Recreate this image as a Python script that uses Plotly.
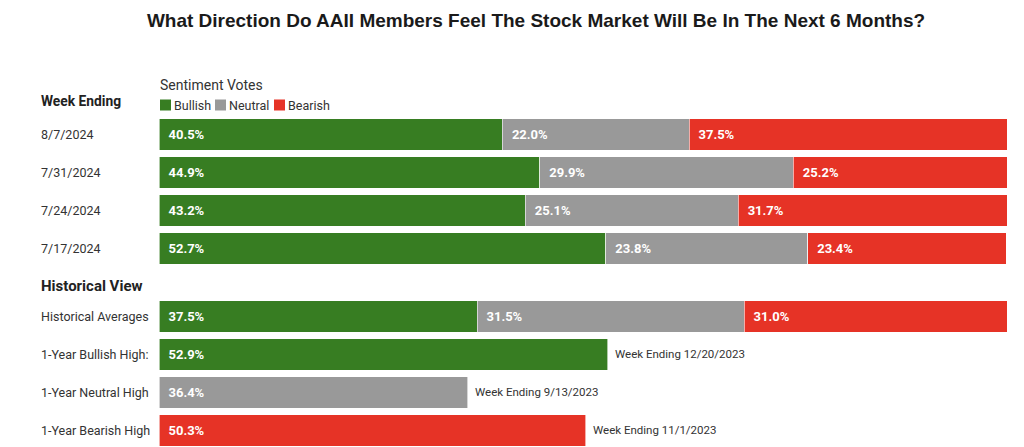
import plotly.graph_objects as go

# rows: 4 weekly readings, then the historical view block
row_labels = ["8/7/2024", "7/31/2024", "7/24/2024", "7/17/2024",
              "Historical Averages", "1-Year Bullish High:",
              "1-Year Neutral High", "1-Year Bearish High"]

bull_rows = [0, 1, 2, 3, 4, 5]
bull_vals = [40.5, 44.9, 43.2, 52.7, 37.5, 52.9]

neut_rows = [0, 1, 2, 3, 4, 6]
neut_vals = [22.0, 29.9, 25.1, 23.8, 31.5, 36.4]

bear_rows = [0, 1, 2, 3, 4, 7]
bear_vals = [37.5, 25.2, 31.7, 23.4, 31.0, 50.3]

high_notes = ["Week Ending 12/20/2023", "Week Ending 9/13/2023", "Week Ending 11/1/2023"]
high_rows = [5, 6, 7]
high_vals = [52.9, 36.4, 50.3]

series_names = ["Bullish", "Neutral", "Bearish"]

GREEN = "#377d22"
GRAY = "#999999"
RED = "#e63326"
colors = [GREEN, GRAY, RED]

W, H = 1024, 447
L, R, T, B = 159, 17, 115, 0
PW, PH = W - L - R, H - T - B


def px_x(p):
    return (p - L) / PW


def px_y(p):
    return (H - B - p) / PH


# vertical slot for each row (historical block is pulled up a bit)
gap = 68 / 38 - 1
ypos = [0, 1, 2, 3, 4 + gap, 5 + gap, 6 + gap, 7 + gap]
header_y = 4.0

LABEL_FONT = "Roboto"


def mk(name, rows, vals, color):
    return go.Bar(
        name=name,
        orientation="h",
        y=[ypos[r] for r in rows],
        x=vals,
        width=0.82,
        marker=dict(color=color, line=dict(color="white", width=0.6)),
        text=["\u00a0\u00a0{:.1f}%".format(v) for v in vals],
        textposition="inside",
        insidetextanchor="start",
        textfont=dict(family=LABEL_FONT, size=13, color="white", weight="bold"),
        hoverinfo="skip",
        showlegend=False,
    )


fig = go.Figure([mk(n, r, v, c) for n, r, v, c in zip(
    series_names, [bull_rows, neut_rows, bear_rows], [bull_vals, neut_vals, bear_vals], colors)])

annotations = []
for lab, y in zip(row_labels, ypos):
    annotations.append(dict(x=px_x(39), xref="paper", y=y, yref="y", text=lab,
                            showarrow=False, xanchor="left", yanchor="middle",
                            font=dict(family=LABEL_FONT, size=12.5, color="#333333")))
for txt, r, v in zip(high_notes, high_rows, high_vals):
    annotations.append(dict(x=v, y=ypos[r], xref="x", yref="y", text=txt, showarrow=False,
                            xanchor="left", yanchor="middle", xshift=5,
                            font=dict(family=LABEL_FONT, size=11.5, color="#333333")))
annotations.append(dict(x=px_x(39), xref="paper", y=header_y, yref="y", text="<b>Historical View</b>",
                        showarrow=False, xanchor="left", yanchor="middle",
                        font=dict(family=LABEL_FONT, size=15, color="#222222")))
annotations.append(dict(x=px_x(39), xref="paper", y=px_y(101), yref="paper", text="<b>Week Ending</b>",
                        showarrow=False, xanchor="left", yanchor="middle",
                        font=dict(family=LABEL_FONT, size=13.8, color="#222222")))

# legend drawn by hand so it stays compact like the original
annotations.append(dict(x=px_x(158), xref="paper", y=px_y(85), yref="paper", text="Sentiment Votes",
                        showarrow=False, xanchor="left", yanchor="middle",
                        font=dict(family=LABEL_FONT, size=14, color="#333333")))
shapes = []
leg_x = [160, 215, 274]
for name, col, lx in zip(series_names, colors, leg_x):
    shapes.append(dict(type="rect", xref="paper", yref="paper",
                       x0=px_x(lx), x1=px_x(lx + 11), y0=px_y(110.5), y1=px_y(99.5),
                       fillcolor=col, line=dict(width=0)))
    annotations.append(dict(x=px_x(lx + 12), xref="paper", y=px_y(105), yref="paper", text=name,
                            showarrow=False, xanchor="left", yanchor="middle",
                            font=dict(family=LABEL_FONT, size=12.5, color="#333333")))

fig.update_layout(
    width=W, height=H,
    barmode="stack",
    paper_bgcolor="white", plot_bgcolor="white",
    margin=dict(l=L, r=R, t=T, b=B, autoexpand=False),
    title=dict(text="<b>What Direction Do AAII Members Feel The Stock Market Will Be In The Next 6 Months?</b>",
               x=536 / W, xanchor="center", y=1 - 20 / H, yanchor="middle",
               font=dict(family="Liberation Sans", size=19, color="#1a1a1a")),
    xaxis=dict(range=[0, 100], visible=False, fixedrange=True),
    yaxis=dict(range=[8.224, -0.513], visible=False, fixedrange=True),
    showlegend=False,
    annotations=annotations,
    shapes=shapes,
)

fig.write_html("out.html", config={"displayModeBar": False},
               post_script="document.body.style.margin='0';")
